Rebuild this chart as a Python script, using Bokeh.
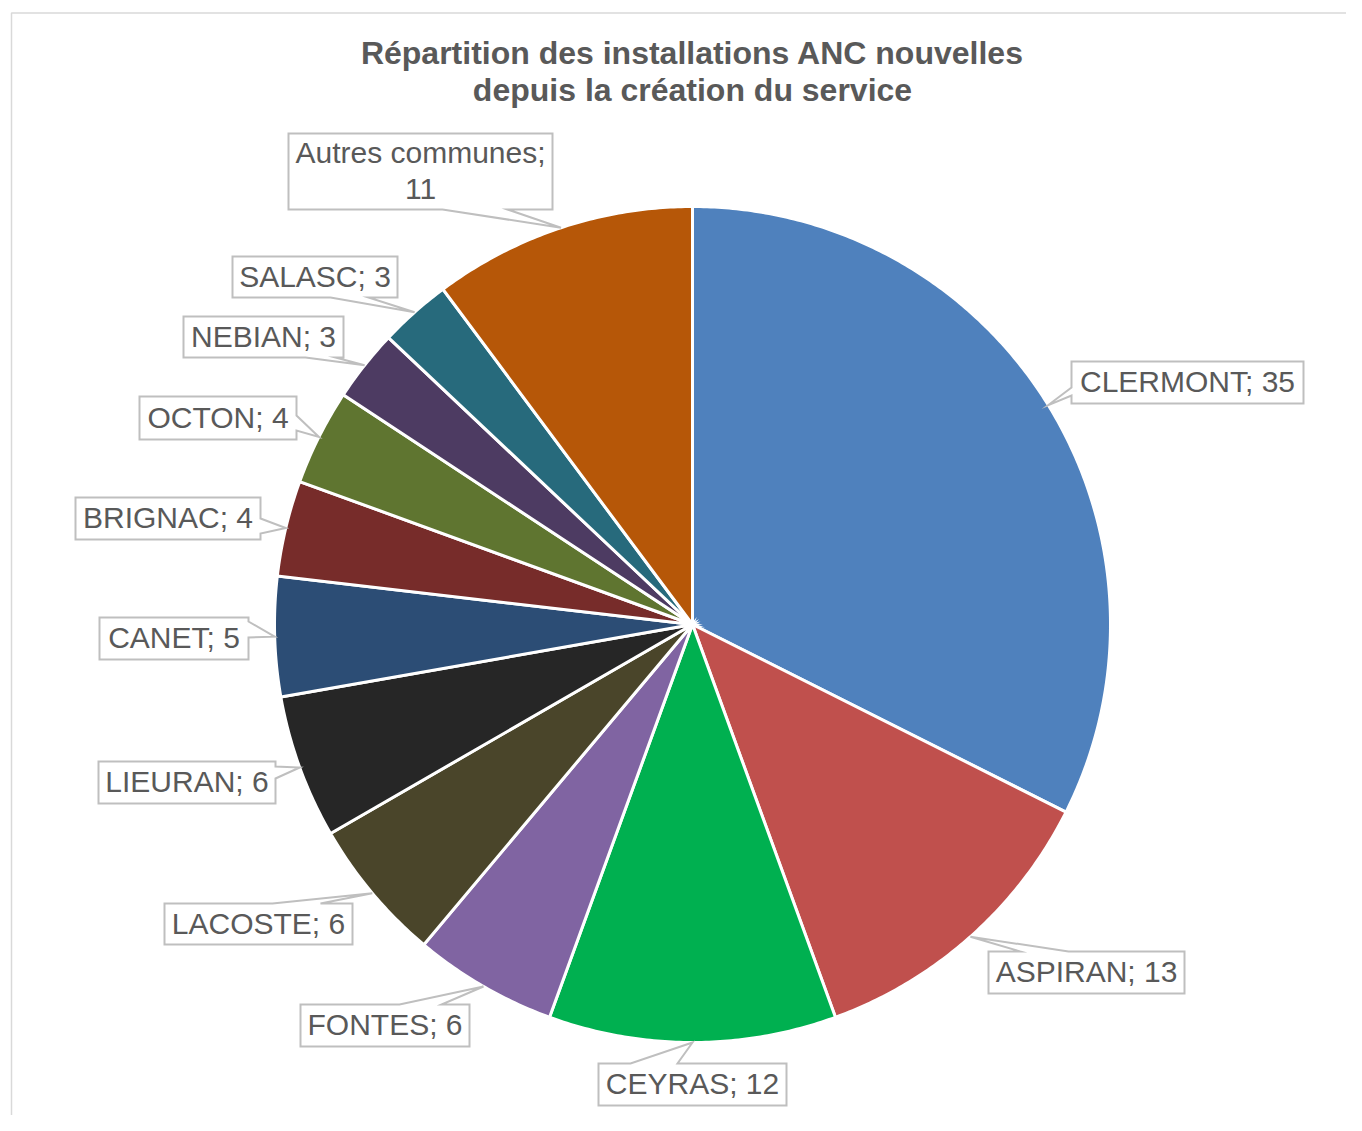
import numpy as np
from bokeh.plotting import figure
from bokeh.models import Range1d, ColumnDataSource
from bokeh.embed import file_html
from bokeh.resources import INLINE
from bokeh.core.properties import value

# ---------------- data ----------------
communes = ["CLERMONT", "ASPIRAN", "CEYRAS", "FONTES", "LACOSTE", "LIEURAN",
            "CANET", "BRIGNAC", "OCTON", "NEBIAN", "SALASC", "Autres communes"]
counts = [35, 13, 12, 6, 6, 6, 5, 4, 4, 3, 3, 11]
colors = ["#4F81BD", "#C0504D", "#00B050", "#8064A2", "#4A452A", "#262626",
          "#2C4D75", "#772C2A", "#5F7530", "#4D3B62", "#276A7C", "#B65708"]
title_lines = ["Répartition des installations ANC nouvelles",
               "depuis la création du service"]

# ---------------- layout (page pixels) ----------------
OFF = 0
W, H = 1346, 1115
CX, CY, R = 692 - OFF, 624 - OFF, 418

# callout boxes: (x0, y0, x1, y1), side of pointer, pointer base (two coords along side)
boxes = [
    ((1071, 361, 1303, 403), "l", (387, 395)),
    ((988, 951, 1184, 993), "t", (1020, 1068)),
    ((598, 1063, 786, 1105), "t", (630, 677)),
    ((300, 1004, 469, 1046), "t", (399, 441)),
    ((164, 903, 352, 944), "t", (272, 320)),
    ((98, 761, 275, 803), "r", (766, 778)),
    ((99, 617, 248, 659), "r", (621, 637)),
    ((75, 497, 260, 539), "r", (518, 533)),
    ((139, 396, 296, 439), "r", (415, 430)),
    ((183, 316, 343, 357), "b", (305, 335)),
    ((232, 256, 397, 297), "b", (330, 368)),
    ((288, 133, 552, 209), "b", (442, 507)),
]

p = figure(width=W, height=H, x_range=Range1d(0, W), y_range=Range1d(H, 0),
           output_backend="svg", toolbar_location=None, min_border=0,
           background_fill_color="white", border_fill_color="white")
p.outline_line_color = None
p.axis.visible = False
p.grid.visible = False

# chart frame
p.line(x=[11 - OFF, 11 - OFF, W + 20], y=[H + 20, 12.5 - OFF, 12.5 - OFF],
       line_color="#D9D9D9", line_width=1.5)

# wedges
total = float(sum(counts))
cum = np.concatenate([[0.0], np.cumsum(counts)]) / total * 2 * np.pi
xs, ys = [], []
mids = []
for i in range(len(counts)):
    a0, a1 = cum[i], cum[i + 1]
    n = max(8, int((a1 - a0) / (2 * np.pi) * 720))
    th = np.linspace(a0, a1, n)
    xs.append([CX] + list(CX + R * np.sin(th)))
    ys.append([CY] + list(CY - R * np.cos(th)))
    mids.append((a0 + a1) / 2)
p.patches(xs=xs, ys=ys, fill_color=colors, line_color="white", line_width=3,
          line_join="miter")

# callouts
cxs, cys, tx, ty, labels = [], [], [], [], []
for i, ((x0, y0, x1, y1), side, (b1, b2)) in enumerate(boxes):
    x0 -= OFF; x1 -= OFF; y0 -= OFF; y1 -= OFF
    b1 -= OFF; b2 -= OFF
    ax = CX + R * np.sin(mids[i])
    ay = CY - R * np.cos(mids[i])
    TL, TR, BR, BL = (x0, y0), (x1, y0), (x1, y1), (x0, y1)
    A = (ax, ay)
    if side == "t":
        pts = [TL, (b1, y0), A, (b2, y0), TR, BR, BL]
    elif side == "r":
        pts = [TL, TR, (x1, b1), A, (x1, b2), BR, BL]
    elif side == "b":
        pts = [TL, TR, BR, (b2, y1), A, (b1, y1), BL]
    else:
        pts = [TL, TR, BR, BL, (x0, b2), A, (x0, b1)]
    cxs.append([q[0] for q in pts])
    cys.append([q[1] for q in pts])
    tx.append((x0 + x1) / 2)
    ty.append((y0 + y1) / 2 - 1)
    if communes[i] == "Autres communes":
        labels.append(f"{communes[i]};\n{counts[i]}")
    else:
        labels.append(f"{communes[i]}; {counts[i]}")

p.patches(xs=cxs, ys=cys, fill_color="white", line_color="#BFBFBF",
          line_width=2, line_join="miter")

src = ColumnDataSource(dict(x=tx, y=ty, t=labels))
p.text(x="x", y="y", text="t", source=src, text_align="center",
       text_baseline="middle", text_font=value("Liberation Sans"),
       text_font_size="30px", text_color="#595959", text_line_height=1.1)

# title
p.text(x=[692 - OFF, 692 - OFF], y=[52 - OFF, 89 - OFF], text=title_lines,
       text_align="center", text_baseline="alphabetic",
       text_font=value("Liberation Sans"), text_font_style="bold",
       text_font_size="32px", text_color="#595959")

open("out.html", "w").write(file_html(p, INLINE))
